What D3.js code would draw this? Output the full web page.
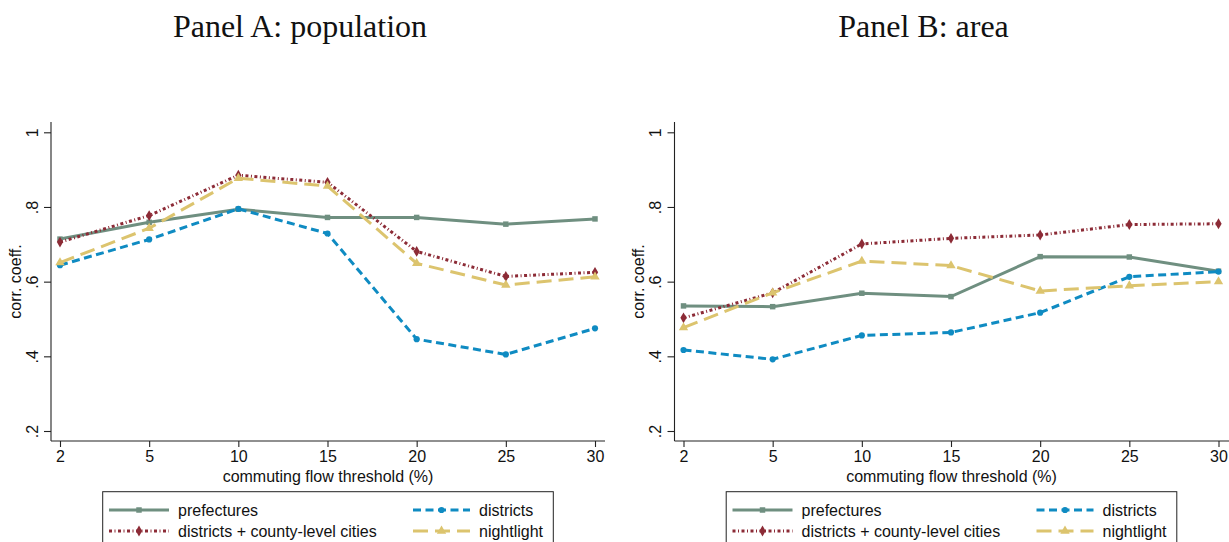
<!DOCTYPE html>
<html>
<head>
<meta charset="utf-8">
<script src="https://cdn.jsdelivr.net/npm/d3@7"></script>
<style>
  body { margin: 0; background: #fff; }
  svg { display: block; }
</style>
</head>
<body>
<script>
// Data
var thresholds = [2, 5, 10, 15, 20, 25, 30];
var yTicks = [0.2, 0.4, 0.6, 0.8, 1];
var seriesNames = ["prefectures", "districts", "districts + county-level cities", "nightlight"];
var panelTitles = ["Panel A: population", "Panel B: area"];

// Panel A: population
var popPrefectures = [0.714, 0.759, 0.794, 0.772, 0.772, 0.754, 0.768];
var popDistricts   = [0.644, 0.713, 0.795, 0.729, 0.446, 0.405, 0.475];
var popDistCounty  = [0.706, 0.777, 0.885, 0.866, 0.681, 0.614, 0.625];
var popNightlight  = [0.651, 0.743, 0.877, 0.856, 0.649, 0.591, 0.613];

// Panel B: area
var areaPrefectures = [0.535, 0.533, 0.569, 0.560, 0.667, 0.666, 0.628];
var areaDistricts   = [0.417, 0.392, 0.456, 0.464, 0.517, 0.613, 0.627];
var areaDistCounty  = [0.503, 0.570, 0.701, 0.716, 0.725, 0.753, 0.755];
var areaNightlight  = [0.477, 0.570, 0.655, 0.643, 0.575, 0.589, 0.600];

var canvas = {w: 1229, h: 542};
var panelOffset = 623.5;
var sansFont = "16px 'Liberation Sans', Arial, sans-serif";

// styles per series (order follows seriesNames)
var styles = [
  {color: "#6f8f80", dash: null,      marker: "square"},
  {color: "#0f8bc2", dash: "8,4.5",   marker: "circle"},
  {color: "#8c2b36", dash: "3,2.5,1,2.5", marker: "diamond"},
  {color: "#dcc46e", dash: "15,7",    marker: "triangle"}
];

var panels = [
  {title: panelTitles[0], data: [popPrefectures, popDistricts, popDistCounty, popNightlight]},
  {title: panelTitles[1], data: [areaPrefectures, areaDistricts, areaDistCounty, areaNightlight]}
];

var svg = d3.select("body").append("svg")
    .attr("width", canvas.w)
    .attr("height", canvas.h);

function markerPath(type) {
  var sym = {square: d3.symbolSquare, circle: d3.symbolCircle,
             diamond: d3.symbolDiamond, triangle: d3.symbolTriangle}[type];
  var size = {square: 30, circle: 30, diamond: 34, triangle: 38}[type];
  return d3.symbol().type(sym).size(size)();
}

panels.forEach(function(p, pi) {
  var g = svg.append("g")
      .attr("transform", "translate(" + (pi * panelOffset) + ",0)");

  // Scales: thresholds are evenly spaced categories
  var x = d3.scalePoint().domain(thresholds).range([60, 595]);
  var y = d3.scaleLinear().domain([0.2, 1]).range([431, 132.3]);

  // Title
  g.append("text")
      .attr("x", 300)
      .attr("y", 37)
      .attr("text-anchor", "middle")
      .style("font", "32px 'Liberation Serif', serif")
      .attr("fill", "#111")
      .text(p.title);

  // y axis
  var yAxis = g.append("g")
      .attr("transform", "translate(51,0)")
      .call(d3.axisLeft(y).tickValues(yTicks).tickSize(7).tickPadding(0)
            .tickFormat(function(d) { return d === 1 ? "1" : d3.format(".1f")(d).replace(/^0/, ""); }));
  yAxis.select(".domain").attr("d", "M0,122V441");
  yAxis.selectAll("text")
      .attr("x", null)
      .attr("transform", "translate(-19,0) rotate(-90)")
      .attr("text-anchor", "middle")
      .attr("dy", "0.35em");

  // x axis
  var xAxis = g.append("g")
      .attr("transform", "translate(0,441)")
      .call(d3.axisBottom(x).tickSize(6).tickPadding(4));
  xAxis.select(".domain").attr("d", "M51,0H" + (pi ? 640 : 605));

  g.selectAll(".tick text")
      .style("font", sansFont)
      .attr("fill", "#111");
  g.selectAll(".domain, .tick line").attr("stroke", "#222").attr("stroke-width", 1.1);

  // axis titles
  g.append("text")
      .attr("x", 328)
      .attr("y", 482)
      .attr("text-anchor", "middle")
      .style("font", sansFont)
      .attr("fill", "#111")
      .text("commuting flow threshold (%)");

  g.append("text")
      .attr("transform", "translate(15,281.5) rotate(-90)")
      .attr("text-anchor", "middle")
      .attr("dy", "0.35em")
      .style("font", sansFont)
      .attr("fill", "#111")
      .text("corr. coeff.");

  // series lines
  var line = d3.line()
      .x(function(d, i) { return x(thresholds[i]); })
      .y(function(d) { return y(d); });

  p.data.forEach(function(vals, si) {
    var st = styles[si];
    g.append("path")
        .attr("d", line(vals))
        .attr("fill", "none")
        .attr("stroke", st.color)
        .attr("stroke-width", 3)
        .attr("stroke-dasharray", st.dash);
    g.selectAll(null)
        .data(vals)
        .enter().append("path")
        .attr("d", markerPath(st.marker))
        .attr("transform", function(d, i) { return "translate(" + x(thresholds[i]) + "," + y(d) + ")"; })
        .attr("fill", st.color);
  });

  // legend
  var leg = g.append("g");
  leg.append("rect")
      .attr("x", 102.7).attr("y", 491.7)
      .attr("width", 450.6).attr("height", 80)
      .attr("fill", "none")
      .attr("stroke", "#222").attr("stroke-width", 1);

  var legPos = [
    {x0: 109, x1: 169, y: 510},
    {x0: 413, x1: 470, y: 510},
    {x0: 109, x1: 169, y: 531},
    {x0: 413, x1: 470, y: 531}
  ];
  seriesNames.forEach(function(name, si) {
    var st = styles[si], lp = legPos[si];
    leg.append("line")
        .attr("x1", lp.x0).attr("x2", lp.x1)
        .attr("y1", lp.y).attr("y2", lp.y)
        .attr("stroke", st.color)
        .attr("stroke-width", 3)
        .attr("stroke-dasharray", st.dash);
    leg.append("path")
        .attr("d", markerPath(st.marker))
        .attr("transform", "translate(" + ((lp.x0 + lp.x1) / 2) + "," + lp.y + ")")
        .attr("fill", st.color);
    leg.append("text")
        .attr("x", lp.x1 + 9)
        .attr("y", lp.y)
        .attr("dy", "0.35em")
        .style("font", sansFont)
        .attr("fill", "#111")
        .text(name);
  });
});
</script>
</body>
</html>
